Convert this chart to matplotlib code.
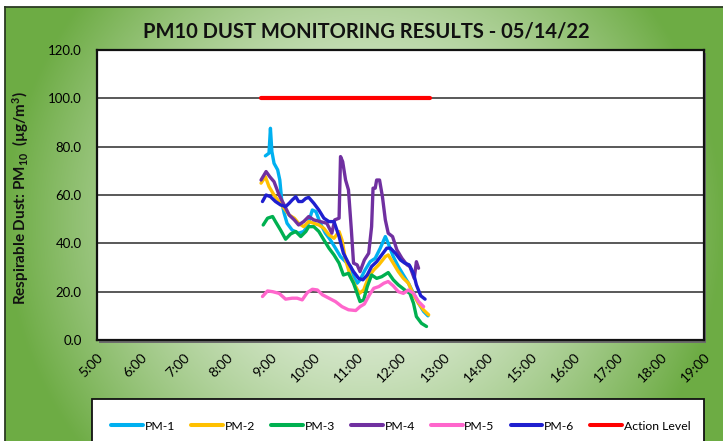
import numpy as np
import matplotlib
matplotlib.use("Agg")
import matplotlib.pyplot as plt
from matplotlib.patches import Rectangle
from matplotlib.lines import Line2D

plt.rcParams['font.family'] = ['Lato', 'DejaVu Sans']
plt.rcParams['mathtext.fontset'] = 'custom'
plt.rcParams['mathtext.rm'] = 'Lato:bold'
plt.rcParams['mathtext.bf'] = 'Lato:bold'
plt.rcParams['mathtext.it'] = 'Lato:bold'

TITLE = "PM10 DUST MONITORING RESULTS - 05/14/22"
YLABEL = r"Respirable Dust: PM$\mathrm{_{10}}$  (µg/m$\mathrm{^{3}}$)"
x_ticks_hours = list(range(5, 20))
x_tick_labels = [f"{h}:00" for h in x_ticks_hours]
y_ticks = [0, 20, 40, 60, 80, 100, 120]

pm1_t = ["8:53","8:58","9:00","9:02","9:05","9:10","9:13","9:16","9:19","9:23","9:30","9:39","9:46","9:51","9:58",
         "10:03","10:09","10:16","10:23","10:30","10:37","10:44","10:51","10:55","11:00","11:04","11:11","11:18",
         "11:25","11:32","11:39","11:43","11:50","11:57","12:04","12:11","12:18","12:25","12:32","12:38"]
pm1_v = [76.2,77.3,87.6,78.0,73.1,70.4,66.2,56.6,52.4,48.3,45.5,44.2,44.9,46.9,53.8,
         53.1,48.3,44.2,41.4,38.0,34.5,32.4,30.4,26.2,23.5,24.9,29.0,32.4,
         33.8,38.0,42.8,40.0,34.5,30.4,26.9,23.5,19.3,15.2,11.8,10.0]

pm2_t = ["8:47","8:53","8:58","9:05","9:12","9:19","9:26","9:33","9:39","9:46","9:53","10:00","10:07","10:14",
         "10:21","10:28","10:35","10:39","10:44","10:51","10:58","11:03","11:09","11:16","11:23","11:30","11:39",
         "11:43","11:50","11:57","12:04","12:11","12:18","12:25","12:32","12:39"]
pm2_v = [64.9,67.6,63.5,60.0,57.3,54.5,51.7,50.4,48.3,46.9,49.0,48.3,47.6,46.2,
         43.5,42.1,44.9,41.4,33.1,26.2,22.1,19.3,20.7,26.2,29.0,31.1,34.5,
         35.2,31.8,28.3,25.5,23.5,18.7,15.2,12.4,10.4]

pm3_t = ["8:50","8:56","9:03","9:07","9:14","9:21","9:28","9:35","9:42","9:49","9:53","10:00","10:07","10:14",
         "10:21","10:28","10:35","10:41","10:48","10:55","11:00","11:04","11:09","11:14","11:20","11:27","11:34",
         "11:43","11:50","11:57","12:06","12:13","12:18","12:22","12:29","12:36"]
pm3_v = [47.6,50.4,51.1,49.0,45.5,41.7,43.9,44.9,42.8,44.9,46.9,46.9,44.9,41.4,
         38.0,35.2,31.8,26.9,27.6,23.5,19.3,15.9,16.6,22.1,26.9,25.5,26.2,
         27.9,24.9,22.8,20.7,19.3,15.2,9.7,6.9,5.6]

pm4_t = ["8:47","8:54","8:59","9:05","9:12","9:19","9:26","9:33","9:39","9:46","9:53","10:00","10:09","10:18",
         "10:25","10:29","10:35","10:37","10:40","10:44","10:48","10:52","10:55","11:00","11:04","11:10","11:16",
         "11:20","11:22","11:25","11:27","11:31","11:35","11:39","11:43","11:49","11:55","12:02","12:09","12:13",
         "12:19","12:22","12:25"]
pm4_v = [66.2,69.7,67.6,65.5,60.0,55.9,51.7,49.7,47.6,49.0,51.1,49.7,49.0,48.3,
         44.2,49.7,50.4,75.9,73.8,66.2,62.1,45.5,31.8,31.1,28.3,33.1,35.9,
         46.9,62.8,62.8,66.2,66.2,59.3,49.7,44.2,42.8,37.3,33.8,31.1,30.4,
         25.5,32.4,29.7]

pm5_t = ["8:49","8:56","9:03","9:12","9:21","9:30","9:37","9:44","9:51","9:58","10:05","10:12","10:21","10:30",
         "10:39","10:48","10:58","11:04","11:10","11:17","11:23","11:30","11:37","11:43","11:50","11:57","12:04",
         "12:11","12:18","12:25","12:32"]
pm5_v = [18.0,20.3,20.0,19.3,16.9,17.3,17.3,16.6,19.6,21.0,20.7,18.7,17.3,15.9,
         13.8,12.5,12.2,13.8,14.9,18.7,21.4,22.1,23.5,24.2,22.4,20.0,19.3,
         20.7,19.3,15.9,13.8]

pm6_t = ["8:49","8:54","9:00","9:07","9:14","9:21","9:26","9:30","9:35","9:39","9:44","9:49","9:53","10:00",
         "10:07","10:14","10:21","10:28","10:35","10:41","10:48","10:55","11:02","11:08","11:14","11:20","11:27",
         "11:34","11:41","11:46","11:53","12:00","12:06","12:12","12:18","12:22","12:28","12:34"]
pm6_v = [57.3,60.0,59.3,57.3,55.9,55.2,56.6,57.9,59.3,57.3,57.3,58.6,59.0,56.6,
         53.8,50.4,49.0,49.0,42.8,35.9,31.8,28.3,25.5,24.9,26.9,30.4,32.4,
         35.2,38.0,38.0,35.9,33.1,31.8,31.1,27.6,22.8,18.3,16.9]

action_t = ["8:47", "12:41"]
action_v = [100, 100]

series_labels = ["PM-1", "PM-2", "PM-3", "PM-4", "PM-5", "PM-6", "Action Level"]
series_colors = ["#00B0F0", "#FFC000", "#00B050", "#7030A0", "#FF66CC", "#1F1FCF", "#FF0000"]


def to_hours(ts):
    out = []
    for s in ts:
        h, m = s.split(":")
        out.append(int(h) + int(m) / 60.0)
    return np.array(out)


W, H = 723, 441
fig = plt.figure(figsize=(W / 100, H / 100), dpi=100)
fig.patch.set_facecolor("white")

# gradient background
bg = fig.add_axes([5 / W, 0, 1 - 5 / W, 1 - 7 / H], zorder=-3)
gx = np.linspace(-1, 1, 400)
gy = np.linspace(-1, 1, 300)
GX, GY = np.meshgrid(gx, gy)
r = np.sqrt(GX ** 2 + (GY * 0.6) ** 2)
t = np.clip(r, 0, 1) ** 1.5
c_center = np.array([0.925, 0.955, 0.91])
c_edge = np.array([0.43, 0.675, 0.27])
img = c_center[None, None, :] * (1 - t[..., None]) + c_edge[None, None, :] * t[..., None]
bg.imshow(img, extent=[0, 1, 0, 1], aspect="auto", interpolation="bilinear")
bg.set_xlim(0, 1)
bg.set_ylim(0, 1)
bg.set_xticks([])
bg.set_yticks([])
for s in ["right", "bottom"]:
    bg.spines[s].set_visible(False)
for s in ["left", "top"]:
    bg.spines[s].set_color("#2b3a22")
    bg.spines[s].set_linewidth(1.3)

# plot-area shadow
L, R, B, T = 97 / W, 704 / W, 1 - 340 / H, 1 - 50 / H
fig.patches.append(Rectangle((L + 2 / W, B - 3 / H), R - L, T - B, transform=fig.transFigure,
                             facecolor="#6b6b6b", edgecolor="none", zorder=-2))

ax = fig.add_axes([L, B, R - L, T - B], zorder=0)
ax.set_facecolor("white")

all_t = [pm1_t, pm2_t, pm3_t, pm4_t, pm5_t, pm6_t, action_t]
all_v = [pm1_v, pm2_v, pm3_v, pm4_v, pm5_v, pm6_v, action_v]
handles = []
for i, (tt, vv) in enumerate(zip(all_t, all_v)):
    lw = 3.0 if i == 6 else 2.4
    ax.plot(to_hours(tt), vv, color=series_colors[i], lw=lw, solid_joinstyle="round",
            solid_capstyle="round", zorder=3 + i)
    handles.append(Line2D([], [], color=series_colors[i], lw=2.9, solid_capstyle="round"))

ax.set_xlim(5, 19)
ax.set_ylim(0, 120)
ax.set_yticks(y_ticks)
ax.set_yticklabels([f"{v:.1f}" for v in y_ticks], fontsize=9.5)
ax.set_xticks(x_ticks_hours)
ax.set_xticklabels(x_tick_labels, fontsize=10, rotation=45, ha="right", va="top",
                   rotation_mode="anchor")
ax.tick_params(axis="both", length=0)
ax.tick_params(axis="y", pad=11)
ax.tick_params(axis="x", pad=8)
ax.grid(axis="y", color="#3c3c3c", lw=1.2, zorder=1)
ax.set_axisbelow(True)
for s in ax.spines.values():
    s.set_color("#111111")
    s.set_linewidth(1.6)

fig.text(366 / W, 1 - 32 / H, TITLE, ha="center", va="center", fontsize=14.5,
         fontweight="bold", color="#111111")
fig.text(21 / W, 1 - 198 / H, YLABEL, ha="center", va="center", rotation=90,
         fontsize=11, fontweight="bold", color="#111111")

# legend box
fig.patches.append(Rectangle((92 / W, -0.05), (704 - 92) / W, 1 - 399 / H + 0.05,
                             transform=fig.transFigure, facecolor="white",
                             edgecolor="#111111", lw=1.3, zorder=1))
fig.legend(handles, series_labels, loc="center", bbox_to_anchor=(401 / W, 1 - 426 / H),
           ncol=7, frameon=False, fontsize=8.8, handlelength=2.6, handletextpad=0.15,
           columnspacing=1.3)

fig.savefig("out.png", dpi=100)
